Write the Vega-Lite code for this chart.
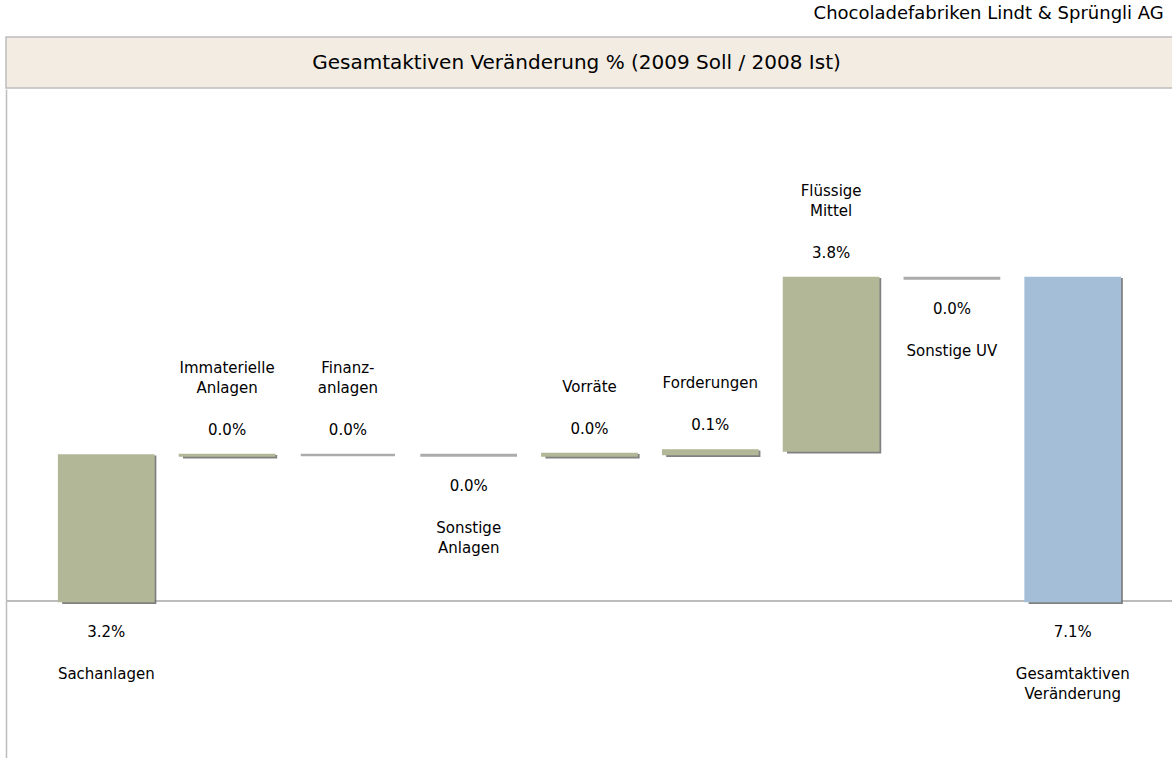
{
  "$schema": "https://vega.github.io/schema/vega-lite/v6.json",
  "autosize": {"type": "pad"},
  "padding": {"left": 5, "top": 5, "right": 0, "bottom": 0},
  "background": "white",
  "config": {
    "font": "DejaVu Sans",
    "view": {"stroke": null},
    "concat": {"spacing": 0}
  },
  "title": {
    "text": "Chocoladefabriken Lindt & Sprüngli AG",
    "anchor": "end",
    "fontSize": 18,
    "fontWeight": "normal",
    "font": "DejaVu Sans",
    "color": "#000000",
    "offset": 13,
    "dx": -10
  },
  "vconcat": [
    {
      "width": 1167,
      "height": 51,
      "view": {"fill": "#F3ECE2", "stroke": "#BDBDBD", "strokeWidth": 1.5},
      "data": {"values": [{"t": "Gesamtaktiven Veränderung % (2009 Soll / 2008 Ist)"}]},
      "mark": {"type": "text", "fontSize": 20, "font": "DejaVu Sans", "color": "#000000", "dx": -13},
      "encoding": {"text": {"field": "t"}}
    },
    {
      "width": 1167,
      "height": 670,
      "data": {
        "values": [
          {"cat": "Sachanlagen", "start": 0, "end": 3.2, "kind": "Zunahme", "pos": "below", "label": "3.2%", "name": "Sachanlagen"},
          {"cat": "Immaterielle Anlagen", "start": 3.2, "end": 3.21, "kind": "Zunahme", "pos": "above", "label": "0.0%", "name": "Immaterielle\nAnlagen"},
          {"cat": "Finanzanlagen", "start": 3.21, "end": 3.21, "kind": "unverändert", "pos": "above", "label": "0.0%", "name": "Finanz-\nanlagen"},
          {"cat": "Sonstige Anlagen", "start": 3.21, "end": 3.2, "kind": "unverändert", "pos": "below", "label": "0.0%", "name": "Sonstige\nAnlagen"},
          {"cat": "Vorräte", "start": 3.2, "end": 3.23, "kind": "Zunahme", "pos": "above", "label": "0.0%", "name": "Vorräte"},
          {"cat": "Forderungen", "start": 3.23, "end": 3.31, "kind": "Zunahme", "pos": "above", "label": "0.1%", "name": "Forderungen"},
          {"cat": "Flüssige Mittel", "start": 3.31, "end": 7.1, "kind": "Zunahme", "pos": "above", "label": "3.8%", "name": "Flüssige\nMittel"},
          {"cat": "Sonstige UV", "start": 7.1, "end": 7.09, "kind": "unverändert", "pos": "below", "label": "0.0%", "name": "Sonstige UV"},
          {"cat": "Gesamtaktiven Veränderung", "start": 0, "end": 7.1, "kind": "Summe", "pos": "below", "label": "7.1%", "name": "Gesamtaktiven\nVeränderung"}
        ]
      },
      "transform": [
        {"calculate": "datum.pos === 'above' ? max(datum.start, datum.end) : min(datum.start, datum.end)", "as": "anchor"},
        {"calculate": "indexof(datum.name, '\\n') >= 0 ? 2 : 1", "as": "lines"}
      ],
      "encoding": {
        "x": {
          "field": "cat",
          "type": "nominal",
          "sort": ["Sachanlagen", "Immaterielle Anlagen", "Finanzanlagen", "Sonstige Anlagen", "Vorräte", "Forderungen", "Flüssige Mittel", "Sonstige UV", "Gesamtaktiven Veränderung"],
          "axis": null,
          "scale": {"paddingInner": 0.22, "paddingOuter": 0.44}
        }
      },
      "layer": [
        {
          "mark": {"type": "rule", "color": "#BDBDBD", "strokeWidth": 1.5},
          "encoding": {
            "x": {"value": 0},
            "x2": {"value": 1167},
            "y": {"datum": 0, "type": "quantitative", "scale": {"domain": [-3.473, 11.255], "nice": false, "zero": false}, "axis": {"labels": false, "ticks": false, "grid": false, "title": null, "domainColor": "#BDBDBD", "domainWidth": 1.5}}
          }
        },
        {
          "transform": [{"filter": "datum.kind !== 'unverändert'"}],
          "mark": {"type": "bar", "color": "#6B6B6B", "xOffset": 3, "yOffset": 3, "opacity": 0.85},
          "encoding": {
            "y": {"field": "start", "type": "quantitative"},
            "y2": {"field": "end"}
          }
        },
        {
          "mark": {"type": "bar", "strokeWidth": 2.5},
          "encoding": {
            "y": {"field": "start", "type": "quantitative"},
            "y2": {"field": "end"},
            "color": {
              "field": "kind",
              "type": "nominal",
              "scale": {"domain": ["Zunahme", "unverändert", "Summe"], "range": ["#B2B797", "#ABABAB", "#A3BED6"]},
              "legend": null
            },
            "stroke": {
              "field": "kind",
              "type": "nominal",
              "scale": {"domain": ["Zunahme", "unverändert", "Summe"], "range": ["#B2B797", "#ABABAB", "#A3BED6"]},
              "legend": null
            }
          }
        },
        {
          "transform": [{"filter": "datum.pos === 'above'"}],
          "mark": {"type": "text", "fontSize": 15, "baseline": "middle", "dy": -25, "color": "#000000"},
          "encoding": {
            "y": {"field": "anchor", "type": "quantitative"},
            "text": {"field": "label"}
          }
        },
        {
          "transform": [{"filter": "datum.pos === 'above' && datum.lines === 1"}],
          "mark": {"type": "text", "fontSize": 15, "baseline": "bottom", "dy": -59, "lineBreak": "\n", "lineHeight": 20, "color": "#000000"},
          "encoding": {
            "y": {"field": "anchor", "type": "quantitative"},
            "text": {"field": "name"}
          }
        },
        {
          "transform": [{"filter": "datum.pos === 'above' && datum.lines === 2"}],
          "mark": {"type": "text", "fontSize": 15, "baseline": "bottom", "dy": -79, "lineBreak": "\n", "lineHeight": 20, "color": "#000000"},
          "encoding": {
            "y": {"field": "anchor", "type": "quantitative"},
            "text": {"field": "name"}
          }
        },
        {
          "transform": [{"filter": "datum.pos === 'below'"}],
          "mark": {"type": "text", "fontSize": 15, "baseline": "middle", "dy": 31, "color": "#000000"},
          "encoding": {
            "y": {"field": "anchor", "type": "quantitative"},
            "text": {"field": "label"}
          }
        },
        {
          "transform": [{"filter": "datum.pos === 'below'"}],
          "mark": {"type": "text", "fontSize": 15, "baseline": "top", "dy": 66, "lineBreak": "\n", "lineHeight": 20, "color": "#000000"},
          "encoding": {
            "y": {"field": "anchor", "type": "quantitative"},
            "text": {"field": "name"}
          }
        }
      ]
    }
  ]
}
